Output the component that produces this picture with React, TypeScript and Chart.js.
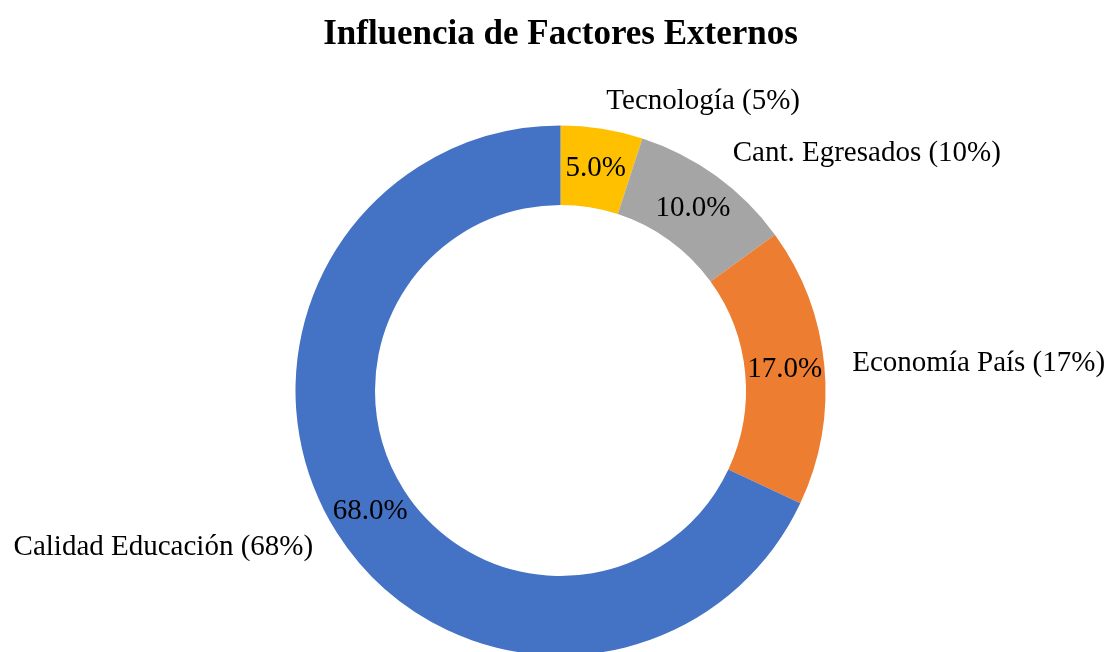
import React, { useEffect, useRef } from "react";
import { Chart, registerables } from "chart.js";

Chart.register(...registerables);

const TITLE = "Influencia de Factores Externos";
const categories = ["Tecnología", "Cant. Egresados", "Economía País", "Calidad Educación"];
const values = [5, 10, 17, 68];
const colors = ["#FFC000", "#A5A5A5", "#ED7D31", "#4472C4"];

const FONT = '"Liberation Serif", "Times New Roman", serif';

const sliceLabels = {
  id: "sliceLabels",
  afterDatasetsDraw(chart: any) {
    const meta = chart.getDatasetMeta(0);
    const ctx = chart.ctx;
    ctx.save();
    ctx.fillStyle = "#000000";
    ctx.textBaseline = "middle";
    meta.data.forEach((arc: any, i: number) => {
      const p = arc.getProps(["x", "y", "startAngle", "endAngle", "outerRadius"], true);
      const mid = arc.tooltipPosition(true);
      ctx.font = `29px ${FONT}`;
      ctx.textAlign = "center";
      ctx.fillText(`${values[i].toFixed(1)}%`, mid.x, mid.y);
      const a = (p.startAngle + p.endAngle) / 2;
      const r = p.outerRadius + 28;
      const lx = p.x + Math.cos(a) * r;
      const ly = p.y + Math.sin(a) * r;
      ctx.textAlign = Math.cos(a) >= 0 ? "left" : "right";
      ctx.fillText(`${categories[i]} (${values[i]}%)`, lx, ly);
    });
    ctx.restore();
  },
};

export default function App() {
  const ref = useRef<HTMLCanvasElement | null>(null);

  useEffect(() => {
    document.body.style.margin = "0";
    if (!ref.current) return;
    const chart = new Chart(ref.current, {
      type: "doughnut",
      data: {
        labels: categories,
        datasets: [
          {
            data: values,
            backgroundColor: colors,
            borderWidth: 0,
            radius: 265,
          } as any,
        ],
      },
      options: {
        responsive: false,
        animation: false,
        cutout: "70%",
        layout: { padding: { left: 11, right: 0, top: 0, bottom: 0 } },
        plugins: {
          legend: { display: false },
          tooltip: { enabled: false },
          title: {
            display: true,
            text: TITLE,
            color: "#000000",
            font: { family: FONT, size: 35, weight: "bold" },
            padding: { top: 14, bottom: 73 },
          },
        },
      } as any,
      plugins: [sliceLabels],
    });
    return () => chart.destroy();
  }, []);

  return (
    <div style={{ width: 1110, height: 652, background: "#ffffff" }}>
      <canvas ref={ref} width={1110} height={652} />
    </div>
  );
}
